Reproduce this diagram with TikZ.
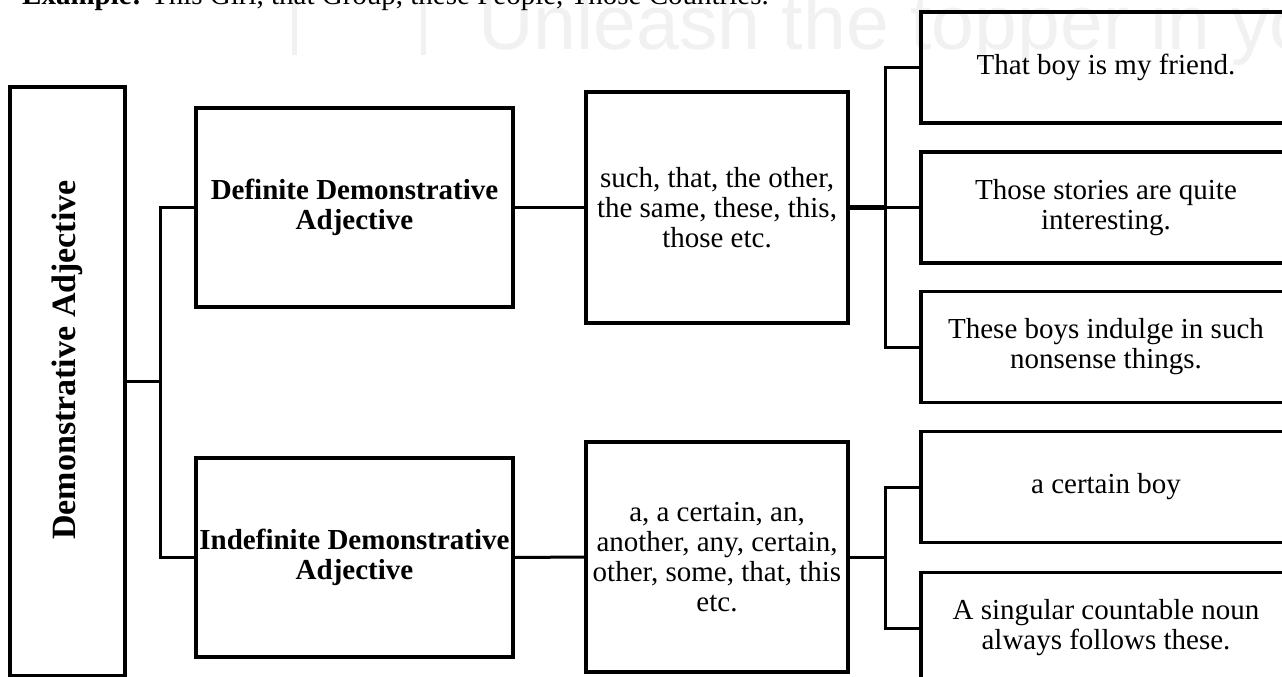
\documentclass[tikz,border=0pt]{standalone}
\usepackage{fontspec}
\setmainfont{Liberation Serif}
\newfontfamily\wmfont{Liberation Sans}
\usetikzlibrary{calc}
\definecolor{wmgray}{HTML}{F1F1F1}
\tikzset{
  boxnode/.style={draw=black, line width=3.5pt, align=center, inner sep=0pt,
    font=\fontsize{29}{30}\selectfont},
  conn/.style={draw=black, line width=3pt},
  thickconn/.style={draw=black, line width=4.5pt},
}
\begin{document}
\begin{tikzpicture}[x=1pt,y=-1pt]
\useasboundingbox (0,0) rectangle (1282,677);
\clip (0,0) rectangle (1282,677);
% watermark
\node[anchor=base west, inner sep=0pt, text=wmgray, font=\wmfont\fontsize{77}{77}\selectfont] (wm) at (478,50) {Unleash the topper in you};
\fill[wmgray] (292,0) rectangle (297,55);
\fill[wmgray] (421,0) rectangle (426,55);
% heading (cut off at top)
\node[anchor=base west, inner sep=0pt, font=\fontsize{29}{30}\selectfont] (hd) at (22,5) {\textbf{Example:} This Girl, that Group, these People, Those Countries.};
% nodes
\node[boxnode, minimum width=115pt, minimum height=589pt] (root) at (67.5,381.5) {};
\node[rotate=90, inner sep=0pt, font=\fontsize{34}{36}\selectfont\bfseries] (rootlbl) at (67.5,360) {Demonstrative Adjective};
\node[boxnode, minimum width=317pt, minimum height=199pt] (def) at (354.5,207.5) {\textbf{Definite Demonstrative}\\\textbf{Adjective}};
\node[boxnode, minimum width=317pt, minimum height=199pt] (indef) at (354.5,557.5) {\textbf{Indefinite Demonstrative}\\\textbf{Adjective}};
\node[boxnode, minimum width=262pt, minimum height=231pt] (m1) at (717,207.5) {such, that, the other,\\the same, these, this,\\those etc.};
\node[boxnode, minimum width=262pt, minimum height=230pt] (m2) at (717,557) {a, a certain, an,\\another, any, certain,\\other, some, that, this\\etc.};
\node[boxnode, minimum width=370pt, minimum height=111pt] (l1) at (1106,67.5) {That boy is my friend.};
\node[boxnode, minimum width=370pt, minimum height=111pt] (l2) at (1106,207.5) {Those stories are quite\\interesting.};
\node[boxnode, minimum width=370pt, minimum height=111pt] (l3) at (1106,347) {These boys indulge in such\\nonsense things.};
\node[boxnode, minimum width=370pt, minimum height=111pt] (l4) at (1106,487) {a certain boy};
\node[boxnode, minimum width=370pt, minimum height=111pt] (l5) at (1106,628) {A singular countable noun\\always follows these.};
% connectors
\coordinate (b1) at (160,381.5);
\coordinate (b2) at (885,207.5);
\coordinate (b3) at (885,557);
\draw[conn] (root.east) -- (b1);
\draw[conn] (def.west) -| (b1) |- (indef.west);
\draw[conn] (def.east) -- (m1.west);
\draw[conn] (indef.east) -- (m2.west);
\draw[thickconn] (m1.east) -- (b2);
\draw[conn] (l1.west) -| (b2) |- (l3.west);
\draw[conn] (b2) -- (l2.west);
\draw[conn] (m2.east) -- (b3);
\draw[conn] (l4.west) -| (b3) |- (l5.west);
\end{tikzpicture}
\end{document}
